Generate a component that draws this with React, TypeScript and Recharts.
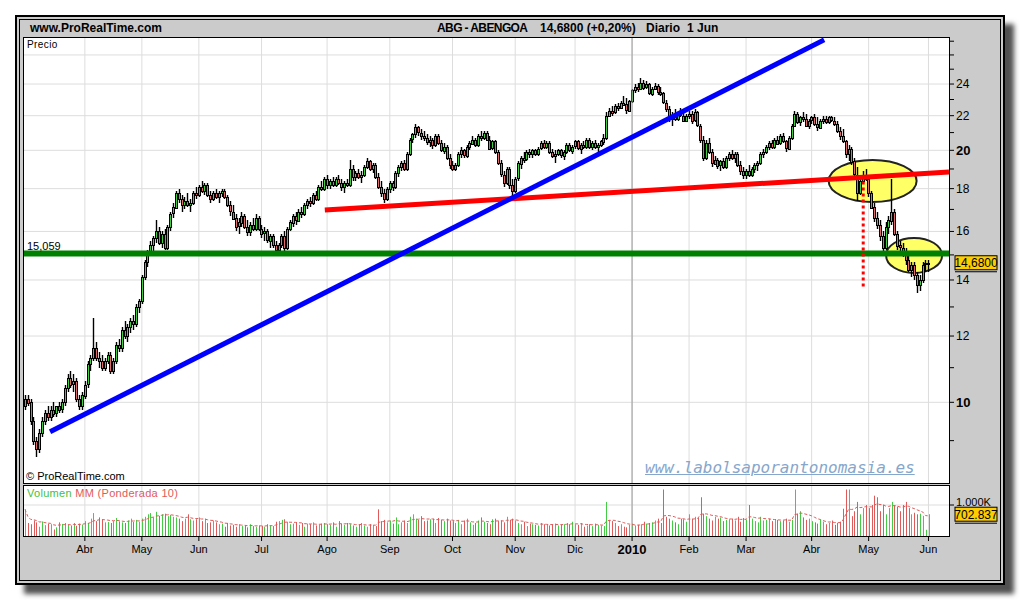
import React from "react";
import {
  ComposedChart,
  Bar,
  Line,
  XAxis,
  YAxis,
  CartesianGrid,
  ReferenceLine,
  ReferenceDot,
} from "recharts";

const FONT = '"Liberation Sans", Arial, sans-serif';
const UP = "#3fcf3f";
const DOWN = "#e06a6a";

// daily candles, Mar 2009 .. 1 Jun 2010 : [open, high, low, close]
const ohlc: number[][] = [
  // Mar 2009
  [9.9,10.2,9.8,10.1],[10.1,10.2,9.9,10.0],[10.0,10.1,9.4,9.5],[9.5,9.6,8.9,9.0],[9.0,9.1,8.6,8.8],
  [8.8,9.3,8.7,9.2],[9.2,9.6,9.1,9.5],[9.5,9.8,9.4,9.7],[9.7,9.9,9.5,9.6],[9.6,9.9,9.5,9.8],
  [9.8,10.0,9.6,9.7],[9.7,9.9,9.6,9.9],[9.9,10.0,9.7,9.8],[9.8,10.1,9.7,10.0],[10.0,10.5,9.9,10.4],
  [10.4,10.8,10.3,10.7],[10.7,10.9,10.4,10.5],[10.5,10.8,10.3,10.6],[10.6,10.7,10.0,10.1],[10.1,10.2,9.8,9.9],
  [9.9,10.3,9.8,10.2],
  // Abr
  [10.2,10.6,10.1,10.5],[10.5,11.2,10.4,11.1],[11.1,11.4,10.9,11.3],[11.3,12.6,11.2,11.6],[11.6,11.8,11.2,11.3],
  [11.3,11.5,11.0,11.2],[11.2,11.4,10.9,11.0],[11.0,11.3,10.9,11.2],[11.2,11.5,11.1,11.4],[11.4,11.5,10.8,10.9],
  [10.9,11.3,10.8,11.2],[11.2,11.8,11.1,11.7],[11.7,11.9,11.5,11.6],[11.6,12.3,11.5,12.2],[12.2,12.5,11.9,12.0],
  [12.0,12.4,11.8,12.3],[12.3,12.6,12.1,12.5],[12.5,12.7,12.2,12.4],[12.4,13.1,12.3,13.0],[13.0,13.3,12.8,13.2],
  // May
  [13.2,14.2,13.1,14.1],[14.1,14.8,14.0,14.7],[14.7,15.2,14.5,15.1],[15.1,15.6,15.0,15.4],[15.4,15.8,15.1,15.7],
  [15.7,16.5,15.5,16.0],[16.0,16.2,15.4,15.5],[15.5,16.0,15.3,15.9],[15.9,16.1,15.2,15.3],[15.3,16.3,15.2,16.2],
  [16.2,16.9,16.0,16.8],[16.8,17.3,16.6,17.1],[17.1,17.9,17.0,17.8],[17.8,18.0,17.3,17.5],[17.5,17.7,16.9,17.2],
  [17.2,17.6,17.0,17.4],[17.4,17.8,17.1,17.2],[17.2,17.5,16.9,17.3],[17.3,17.9,17.2,17.8],[17.8,18.1,17.5,17.7],
  // Jun
  [17.7,18.2,17.6,18.1],[18.1,18.4,17.8,17.9],[17.9,18.3,17.7,18.2],[18.2,18.3,17.6,17.7],[17.7,17.9,17.3,17.5],
  [17.5,17.9,17.4,17.8],[17.8,18.0,17.5,17.6],[17.6,17.9,17.3,17.8],[17.8,18.0,17.6,17.9],[17.9,18.0,17.5,17.6],
  [17.6,17.7,17.1,17.2],[17.2,17.4,16.7,16.9],[16.9,17.2,16.5,16.6],[16.6,16.8,16.0,16.2],[16.2,16.6,15.9,16.4],
  [16.4,16.9,16.2,16.7],[16.7,16.8,16.1,16.2],[16.2,16.5,15.8,16.0],[16.0,16.4,15.8,16.3],[16.3,16.6,16.0,16.1],
  [16.1,16.8,16.0,16.6],[16.6,16.7,16.0,16.1],
  // Jul
  [16.1,16.3,15.7,15.9],[15.9,16.2,15.6,16.0],[16.0,16.1,15.5,15.6],[15.6,15.9,15.3,15.8],[15.8,15.9,15.3,15.4],
  [15.4,15.6,15.1,15.2],[15.2,15.5,15.0,15.4],[15.4,15.9,15.3,15.8],[15.8,16.0,15.1,15.3],[15.3,16.2,15.2,16.1],
  [16.1,16.5,16.0,16.4],[16.4,16.8,16.2,16.7],[16.7,16.9,16.3,16.5],[16.5,17.0,16.4,16.9],[16.9,17.1,16.6,16.8],
  [16.8,17.3,16.7,17.2],[17.2,17.5,17.0,17.4],[17.4,17.6,17.1,17.3],[17.3,17.8,17.2,17.7],[17.7,17.9,17.4,17.5],
  [17.5,18.2,17.4,18.1],[18.1,18.4,17.9,18.0],[18.0,18.6,17.9,18.5],
  // Ago
  [18.5,18.7,18.0,18.2],[18.2,18.5,18.0,18.4],[18.4,18.6,18.1,18.2],[18.2,18.6,18.1,18.5],[18.5,18.7,18.2,18.3],
  [18.3,18.5,17.9,18.1],[18.1,18.4,17.8,18.3],[18.3,18.5,18.1,18.2],[18.2,19.5,18.1,19.0],[19.0,19.2,18.4,18.6],
  [18.6,18.9,18.4,18.8],[18.8,19.0,18.5,18.6],[18.6,18.9,18.3,18.7],[18.7,19.2,18.6,19.1],[19.1,19.6,19.0,19.4],
  [19.4,19.5,18.9,19.0],[19.0,19.3,18.8,19.2],[19.2,19.3,18.5,18.6],[18.6,18.8,18.0,18.1],[18.1,18.4,17.6,17.8],
  [17.8,18.0,17.3,17.5],[17.5,18.1,17.4,18.0],
  // Sep
  [18.0,18.4,17.8,18.3],[18.3,18.4,17.9,18.1],[18.1,18.9,18.0,18.8],[18.8,19.2,18.6,19.1],[19.1,19.4,18.9,19.3],
  [19.3,19.5,18.9,19.0],[19.0,19.9,18.9,19.8],[19.8,20.7,19.7,20.6],[20.6,21.0,20.4,20.9],[20.9,21.5,20.7,21.3],
  [21.3,21.4,20.8,21.0],[21.0,21.2,20.6,20.8],[20.8,21.1,20.5,20.7],[20.7,20.9,20.3,20.5],[20.5,20.8,20.2,20.6],
  [20.6,20.7,20.1,20.3],[20.3,20.9,20.2,20.8],[20.8,20.9,20.3,20.4],[20.4,20.6,19.9,20.0],[20.0,20.4,19.8,20.2],
  [20.2,20.3,19.5,19.6],[19.6,19.8,19.0,19.2],
  // Oct
  [19.2,19.4,18.9,19.0],[19.0,19.3,18.9,19.2],[19.2,19.9,19.1,19.8],[19.8,20.2,19.6,20.0],[20.0,20.1,19.6,19.7],
  [19.7,20.3,19.6,20.2],[20.2,20.5,20.0,20.4],[20.4,20.8,20.3,20.6],[20.6,20.7,20.2,20.3],[20.3,20.9,20.2,20.8],
  [20.8,21.1,20.5,20.7],[20.7,21.1,20.6,21.0],[21.0,21.1,20.5,20.6],[20.6,20.8,20.0,20.1],[20.1,20.6,20.0,20.5],
  [20.5,20.6,19.8,19.9],[19.9,20.0,19.2,19.3],[19.3,19.5,18.6,18.7],[18.7,18.9,18.1,18.3],[18.3,19.1,18.2,19.0],
  [19.0,19.1,18.0,18.2],[18.2,18.5,17.6,17.9],
  // Nov
  [17.9,18.6,17.8,18.5],[18.5,19.4,18.4,19.3],[19.3,19.7,19.0,19.6],[19.6,19.9,19.3,19.5],[19.5,20.0,19.4,19.9],
  [19.9,20.1,19.6,19.8],[19.8,20.1,19.6,20.0],[20.0,20.1,19.7,19.8],[19.8,20.2,19.7,20.1],[20.1,20.5,20.0,20.4],
  [20.4,20.6,20.1,20.2],[20.2,20.5,20.1,20.4],[20.4,20.5,19.8,19.9],[19.9,20.1,19.6,19.7],[19.7,20.0,19.3,19.8],
  [19.8,20.1,19.7,20.0],[20.0,20.1,19.6,19.7],[19.7,20.0,19.5,19.9],[19.9,20.4,19.8,20.3],[20.3,20.4,19.9,20.0],
  [20.0,20.3,19.8,20.2],
  // Dic
  [20.2,20.6,20.1,20.5],[20.5,20.6,20.0,20.1],[20.1,20.4,19.8,20.3],[20.3,20.5,20.1,20.2],[20.2,20.7,20.1,20.6],
  [20.6,20.7,20.1,20.2],[20.2,20.5,20.0,20.4],[20.4,20.6,20.1,20.2],[20.2,20.4,19.9,20.3],[20.3,20.6,20.2,20.5],
  [20.5,20.9,20.3,20.7],[20.7,22.2,20.6,22.0],[22.0,22.5,21.9,22.3],[22.3,22.6,22.0,22.2],[22.2,22.7,22.1,22.6],
  [22.6,22.8,22.3,22.5],[22.5,22.9,22.4,22.8],[22.8,23.2,22.6,22.7],[22.7,23.1,22.1,22.3],[22.3,23.0,22.2,22.9],
  // Ene 2010
  [22.9,23.7,22.8,23.6],[23.6,24.0,23.4,23.8],[23.8,24.1,23.5,23.7],[23.7,24.4,23.6,24.1],[24.1,24.3,23.6,23.8],
  [23.8,24.2,23.7,24.0],[24.0,24.1,23.3,23.4],[23.4,23.8,23.2,23.7],[23.7,24.1,23.6,23.9],[23.9,24.0,23.3,23.5],
  [23.5,23.8,23.2,23.4],[23.4,23.5,22.7,22.8],[22.8,23.0,22.2,22.4],[22.4,22.6,21.6,21.8],[21.8,22.2,21.4,22.0],
  [22.0,22.4,21.7,21.8],[21.8,22.3,21.7,22.2],[22.2,22.5,21.9,22.0],[22.0,22.3,21.6,21.7],[21.7,22.1,21.6,22.0],
  // Feb
  [22.0,22.3,21.8,22.1],[22.1,22.3,21.5,21.7],[21.7,22.4,21.6,22.2],[22.2,22.3,21.3,21.4],[21.4,21.5,20.4,20.6],
  [20.6,20.8,19.4,19.6],[19.6,20.6,19.5,20.4],[20.4,20.7,19.8,19.9],[19.9,20.1,19.1,19.3],[19.3,19.7,19.2,19.5],
  [19.5,19.6,19.0,19.2],[19.2,19.5,18.9,19.4],[19.4,19.6,19.0,19.1],[19.1,19.7,19.0,19.6],[19.6,19.9,19.4,19.8],
  [19.8,20.0,19.5,19.6],[19.6,19.9,19.3,19.8],[19.8,19.9,19.1,19.2],[19.2,19.4,18.7,18.9],[18.9,19.1,18.5,18.7],
  // Mar
  [18.7,19.0,18.5,18.9],[18.9,19.2,18.6,18.7],[18.7,19.1,18.6,19.0],[19.0,19.3,18.8,19.2],[19.2,19.4,18.9,19.3],
  [19.3,19.9,19.2,19.8],[19.8,20.1,19.6,19.9],[19.9,20.3,19.8,20.2],[20.2,20.5,20.0,20.4],[20.4,20.6,20.1,20.2],
  [20.2,20.7,20.1,20.6],[20.6,20.8,20.3,20.4],[20.4,20.9,20.3,20.8],[20.8,21.0,20.4,20.5],[20.5,20.6,19.9,20.1],
  [20.1,20.8,20.0,20.7],[20.7,21.5,20.6,21.4],[21.4,22.3,21.3,22.1],[22.1,22.2,21.5,21.6],[21.6,22.0,21.4,21.9],
  [21.9,22.2,21.6,21.8],[21.8,22.1,21.3,21.4],[21.4,21.8,21.2,21.7],
  // Abr
  [21.7,22.0,21.5,21.9],[21.9,22.1,21.4,21.5],[21.5,21.9,21.1,21.3],[21.3,21.8,21.2,21.7],[21.7,22.0,21.5,21.8],
  [21.8,22.0,21.5,21.6],[21.6,22.0,21.5,21.9],[21.9,22.0,21.6,21.7],[21.7,21.9,21.4,21.5],[21.5,21.7,21.0,21.1],
  [21.1,21.3,20.6,20.8],[20.8,21.2,20.4,20.5],[20.5,20.6,19.6,19.8],[19.8,20.3,19.4,20.1],[20.1,20.2,19.2,19.4],
  [19.4,19.6,18.5,18.7],[18.7,19.1,17.4,17.8],[17.8,18.6,17.7,18.4],[18.4,18.9,18.3,18.6],[18.6,19.0,18.4,18.5],
  // May
  [18.5,18.6,17.6,17.8],[17.8,17.9,17.0,17.1],[17.1,17.3,16.4,16.6],[16.6,16.9,16.1,16.3],[16.3,16.5,15.6,15.8],
  [15.8,16.0,15.1,15.3],[15.3,16.4,15.2,16.2],[16.2,16.7,15.9,16.5],[16.5,18.5,16.3,16.9],[16.9,17.0,15.8,15.9],
  [15.9,16.0,15.2,15.4],[15.4,15.6,15.0,15.3],[15.3,15.5,14.9,15.0],[15.0,15.3,14.6,14.8],[14.8,15.0,14.3,14.4],
  [14.4,14.7,14.1,14.6],[14.6,14.7,14.0,14.2],[14.2,14.3,13.5,13.8],[13.8,14.2,13.6,14.0],[14.0,14.7,13.9,14.6],
  [14.6,14.8,14.3,14.65],
  // 1 Jun
  [14.65,14.8,14.3,14.68],
];

// daily volume, thousands of shares
const volume: number[] = [
  860,420,380,500,440,300,470,350,400,380,210,280,440,390,420,360,340,420,330,400,370,
  480,420,560,740,480,600,520,440,450,420,480,580,470,440,420,500,560,450,520,460,
  560,620,700,740,600,780,650,700,720,640,680,620,600,560,480,560,700,540,500,540,
  600,480,560,420,440,500,440,380,400,300,420,340,360,300,380,320,340,280,380,320,300,340,
  320,300,380,340,320,460,480,520,540,460,380,400,420,360,420,300,400,380,440,340,360,400,420,
  380,360,440,300,480,400,360,420,380,340,300,360,420,340,300,380,360,320,860,480,520,440,
  500,400,600,380,440,500,420,620,700,560,520,640,480,500,540,560,420,580,520,480,560,500,
  480,420,520,380,500,560,440,360,420,500,600,460,420,380,540,560,480,500,440,620,520,560,
  500,420,380,460,320,400,380,360,340,420,380,360,340,380,400,340,360,380,420,380,460,
  380,360,420,300,340,380,320,400,360,340,320,1100,520,480,420,320,380,300,280,360,
  400,340,360,380,460,400,420,440,500,560,420,1500,620,560,500,440,380,560,540,460,
  700,560,620,580,1250,720,640,560,500,620,560,600,480,520,540,560,500,620,460,580,
  520,1000,560,480,440,620,500,520,560,480,540,520,480,500,560,460,520,1500,720,800,600,520,560,
  480,440,400,520,460,380,420,500,360,420,460,880,1500,1500,640,800,1100,700,900,1000,
  900,1000,1300,1250,800,1000,700,900,1100,1000,950,800,1000,1100,900,700,750,700,720,650,200,
  703,
];

const monthTicks = [21, 41, 61, 83, 106, 128, 150, 172, 193, 213, 233, 253, 276, 296, 317];
const monthLabels = ["Abr", "May", "Jun", "Jul", "Ago", "Sep", "Oct", "Nov", "Dic", "2010", "Feb", "Mar", "Abr", "May", "Jun"];
const priceTicks = [9, 10, 11, 12, 13, 14, 15, 16, 17, 18, 19, 20, 21, 22, 23, 24, 25, 26, 27];
const priceGrid = [10, 12, 14, 16, 18, 20, 22, 24, 26];
const support = 15.059;
const blueTrend = [{ x: 8.8, y: 9.22 }, { x: 280.4, y: 27.1 }];
const redTrend = [{ x: 105.2, y: 16.97 }, { x: 324.2, y: 18.84 }];
const breakMark = [{ x: 294.1, y: 18.36 }, { x: 294.1, y: 13.66 }];
const highlights = [
  { x: 297.4, y: 18.38 },
  { x: 311.95, y: 14.98 },
];
const highlightRadii = [[44, 21], [28, 17.5]];

const X_DOMAIN: [number, number] = [-0.35, 324.2];

// weighted moving average (10) of volume, as the indicator shows
const wma = volume.map((_, i) => {
  let s = 0, w = 0;
  for (let k = 0; k < 10 && i - k >= 0; k++) {
    s += (10 - k) * volume[i - k];
    w += 10 - k;
  }
  return s / w;
});

const data = ohlc.map((r, i) => ({
  i,
  o: r[0],
  h: r[1],
  l: r[2],
  c: r[3],
  range: [r[2], r[1]],
  v: volume[i],
  ma: wma[i],
}));

const last = data[data.length - 1];

const Candle = (props: any) => {
  const { x, y, width, height, payload } = props;
  if (!payload) return <g />;
  const top = Math.min(y, y + height);
  const bot = Math.max(y, y + height);
  const cx = Math.round(x + width / 2) + 0.5;
  const lh = Math.log(payload.h);
  const span = lh - Math.log(payload.l) || 1;
  const py = (v: number) => top + ((lh - Math.log(v)) / span) * (bot - top);
  const yo = py(payload.o);
  const yc = py(payload.c);
  const bTop = Math.round(Math.min(yo, yc)) + 0.5;
  const bH = Math.max(Math.round(Math.abs(yo - yc)), 1);
  return (
    <g>
      <line x1={cx} x2={cx} y1={Math.round(top)} y2={Math.round(bot)} stroke="#000" strokeWidth={1.4} />
      <rect
        x={cx - 1}
        y={bTop}
        width={2}
        height={bH}
        fill={payload.c >= payload.o ? UP : DOWN}
        stroke="#000"
        strokeWidth={1}
      />
    </g>
  );
};

const VolBar = (props: any) => {
  const { x, y, width, height, payload } = props;
  if (!payload) return <g />;
  const cx = Math.round(x + width / 2);
  return (
    <rect
      x={cx}
      y={y}
      width={1}
      height={height}
      fill={payload.c >= payload.o ? "#44cc44" : "#e05a5a"}
    />
  );
};

const PriceTick = (props: any) => {
  const { x, y, payload } = props;
  const v = payload.value;
  if (v % 2 !== 0 || v === 26) return <g />;
  const bold = v === 10 || v === 20;
  return (
    <text
      x={x}
      y={y}
      dy={bold ? 5 : 4}
      fontSize={bold ? 13 : 12}
      fontWeight={bold ? "bold" : "normal"}
      fontFamily={FONT}
      fill="#000"
    >
      {v}
    </text>
  );
};

const MonthTick = (props: any) => {
  const { x, y, payload } = props;
  const idx = monthTicks.indexOf(payload.value);
  const label = monthLabels[idx] ?? "";
  const bold = label === "2010";
  return (
    <text
      x={x}
      y={y}
      dy={bold ? 11 : 10}
      textAnchor="middle"
      fontSize={bold ? 13 : 11}
      fontWeight={bold ? "bold" : "normal"}
      fontFamily={FONT}
      fill="#000"
    >
      {label}
    </text>
  );
};

const ValueBox = (text: string, w: number) => (p: any) => (
  <g>
    <rect x={p.cx + 6} y={p.cy - 7} width={w} height={14} fill="#ffcc00" stroke="#000" strokeWidth={1} />
    <line x1={p.cx + 6} x2={p.cx + 6 + w} y1={p.cy + 9} y2={p.cy + 9} stroke="#000" strokeWidth={1} />
    <text
      x={p.cx + 6 + w / 2}
      y={p.cy + 4.5}
      textAnchor="middle"
      fontSize={12}
      fontFamily={FONT}
      fill="#000"
    >
      {text}
    </text>
  </g>
);

const abs = (s: React.CSSProperties): React.CSSProperties => ({ position: "absolute", ...s });

export default function App() {
  return (
    <div style={abs({ left: 0, top: 0, width: 1020, height: 600, background: "#fff", overflow: "hidden", fontFamily: FONT })}>
      {/* window frame */}
      <div
        style={abs({
          left: 15,
          top: 15,
          width: 990,
          height: 570,
          boxSizing: "border-box",
          border: "2px solid #000",
          background: "#cbcbcb",
          boxShadow: "9px 9px 5px #505050",
        })}
      />
      <div style={abs({ left: 19, top: 19, width: 982, height: 562, boxSizing: "border-box", border: "1px solid #000" })} />

      {/* header */}
      <div style={abs({ left: 30, top: 21, fontSize: 12, fontWeight: "bold", color: "#000" })}>www.ProRealTime.com</div>
      <div style={abs({ left: 437, top: 21, fontSize: 12, fontWeight: "bold", letterSpacing: -0.6 })}>ABG - ABENGOA</div>
      <div style={abs({ left: 540, top: 21, fontSize: 12, fontWeight: "bold" })}>14,6800 (+0,20%)</div>
      <div style={abs({ left: 646, top: 21, fontSize: 12, fontWeight: "bold" })}>Diario</div>
      <div style={abs({ left: 687, top: 21, fontSize: 12, fontWeight: "bold" })}>1 Jun</div>

      {/* price panel */}
      <div style={abs({ left: 23, top: 37, width: 927, height: 447, background: "#fff" })} />
      <div style={abs({ left: 24, top: 38 })}>
        <ComposedChart width={980} height={445} data={data} margin={{ top: 0, right: 0, bottom: 0, left: 0 }}>
          <CartesianGrid stroke="#dddddd" horizontalValues={priceGrid} verticalValues={monthTicks} />
          <XAxis type="number" dataKey="i" domain={X_DOMAIN} ticks={monthTicks} allowDataOverflow hide />
          <YAxis
            orientation="right"
            width={55}
            type="number"
            scale="log"
            domain={[8.01, 27.24]}
            ticks={priceTicks}
            interval={0}
            allowDataOverflow
            axisLine={false}
            tickSize={5}
            tickLine={{ stroke: "#000" }}
            tick={<PriceTick />}
          />
          <ReferenceLine x={213} stroke="#9a9a9a" strokeWidth={1} />
          {highlights.map((h, k) => (
            <ReferenceDot
              key={`hl-${k}`}
              x={h.x}
              y={h.y}
              r={1}
              ifOverflow="visible"
              zIndex={250}
              shape={(p: any) => (
                <ellipse
                  cx={p.cx}
                  cy={p.cy}
                  rx={highlightRadii[k][0]}
                  ry={highlightRadii[k][1]}
                  fill="#ffff66"
                  stroke="#222"
                  strokeWidth={2}
                />
              )}
            />
          ))}
          <Bar dataKey="range" barSize={3} shape={<Candle />} isAnimationActive={false} />
          <ReferenceLine
            y={support}
            stroke="#008000"
            strokeWidth={6}
            zIndex={450}
            label={{ value: "15,059", position: "insideBottomLeft", offset: 3, fontSize: 11, fill: "#000", fontFamily: FONT }}
          />
          <ReferenceLine segment={redTrend} stroke="#ff0000" strokeWidth={5} zIndex={450} />
          <ReferenceLine segment={blueTrend} stroke="#0000ff" strokeWidth={5} zIndex={450} />
          <ReferenceLine segment={breakMark} stroke="#ff0000" strokeWidth={3} strokeDasharray="3 3" zIndex={450} />
          <ReferenceDot x={X_DOMAIN[1]} y={last.c} r={1} ifOverflow="visible" zIndex={2500} shape={ValueBox("14,6800", 42)} />
        </ComposedChart>
      </div>
      <div style={abs({ left: 27, top: 39, fontSize: 10, color: "#000", letterSpacing: 0.4 })}>Precio</div>
      <div style={abs({ left: 26, top: 470, fontSize: 11, color: "#000" })}>© ProRealTime.com</div>
      <div
        style={abs({
          left: 645,
          top: 458,
          fontSize: 16,
          fontFamily: '"DejaVu Sans Mono", monospace',
          fontStyle: "italic",
          textDecoration: "underline",
          color: "#86a6cb",
        })}
      >
        www.labolsaporantonomasia.es
      </div>
      <div style={abs({ left: 23, top: 37, width: 927, height: 447, boxSizing: "border-box", border: "1px solid #000", pointerEvents: "none" })} />

      {/* volume panel */}
      <div style={abs({ left: 23, top: 485, width: 927, height: 52, background: "#fff" })} />
      <div style={abs({ left: 24, top: 486 })}>
        <ComposedChart width={980} height={74} data={data} margin={{ top: 0, right: 0, bottom: 0, left: 0 }}>
          <CartesianGrid stroke="#dddddd" horizontalValues={[1000]} verticalValues={monthTicks} />
          <XAxis
            type="number"
            dataKey="i"
            domain={X_DOMAIN}
            ticks={monthTicks}
            interval={0}
            allowDataOverflow
            height={24}
            axisLine={false}
            tickSize={5}
            tickLine={{ stroke: "#000" }}
            tick={<MonthTick />}
          />
          <YAxis
            orientation="right"
            width={55}
            type="number"
            domain={[0, 1613]}
            ticks={[1000]}
            allowDataOverflow
            axisLine={false}
            tickSize={5}
            tickLine={{ stroke: "#000" }}
            tick={{ fontSize: 11, fill: "#000", fontFamily: FONT, textAnchor: "start", dy: -3 }}
            tickFormatter={() => "1.000K"}
          />
          <ReferenceLine x={213} stroke="#9a9a9a" strokeWidth={1} />
          <Bar dataKey="v" barSize={1} shape={<VolBar />} isAnimationActive={false} />
          <Line
            dataKey="ma"
            stroke="#e05a5a"
            strokeWidth={1}
            strokeDasharray="3 2"
            dot={false}
            isAnimationActive={false}
          />
          <ReferenceDot x={X_DOMAIN[1]} y={last.v} r={1} ifOverflow="visible" zIndex={2500} shape={ValueBox("702.837", 42)} />
        </ComposedChart>
      </div>
      <div style={abs({ left: 27, top: 487, fontSize: 11, letterSpacing: 0.3 })}>
        <span style={{ color: "#3fbf3f" }}>Volumen </span>
        <span style={{ color: "#e05a5a" }}>MM (Ponderada 10)</span>
      </div>
      <div style={abs({ left: 23, top: 485, width: 927, height: 52, boxSizing: "border-box", border: "1px solid #000", pointerEvents: "none" })} />
    </div>
  );
}
